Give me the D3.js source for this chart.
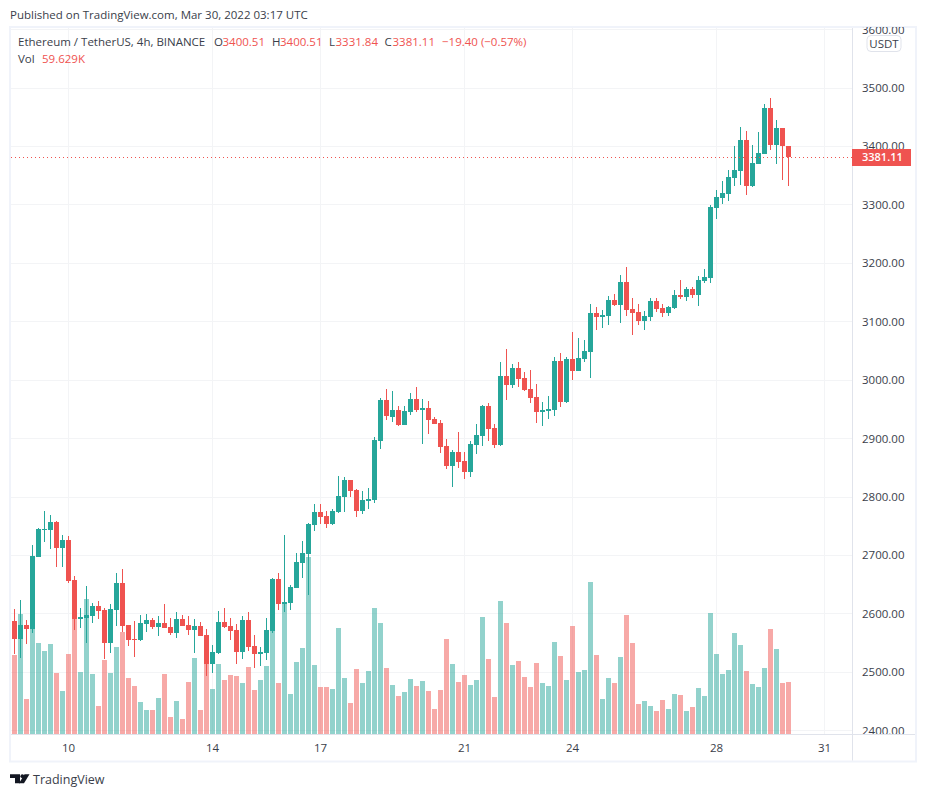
<!DOCTYPE html>
<html>
<head>
<meta charset="utf-8">
<script src="https://cdn.jsdelivr.net/npm/d3@7"></script>
<style>
  body { margin: 0; background: #fff; }
  text { font-family: "Open Sans", sans-serif; font-size: 11.5px; fill: #3a3e4a; }
</style>
</head>
<body>
<script>
const opens = [
  2588, 2557, 2581, 2574, 2697, 2743.5, 2743.5, 2757, 2713, 2726,
  2658, 2591, 2593, 2596, 2613.5, 2607, 2550, 2607, 2653, 2581,
  2557, 2555, 2582.6, 2589.5, 2577.5, 2584.4, 2577.5, 2567, 2591, 2581,
  2572, 2579, 2564, 2514, 2533, 2586, 2579, 2572, 2535, 2589.5,
  2545, 2531, 2533, 2570.7, 2659.7, 2616.9, 2618.6, 2644.3, 2687, 2702.5,
  2752, 2774, 2767.5, 2754, 2774, 2800, 2829, 2812, 2776, 2793,
  2795, 2896, 2966, 2937, 2949, 2923, 2945.5, 2968, 2949, 2952,
  2933.5, 2926.7, 2887, 2853, 2877, 2862, 2843, 2889, 2904, 2956,
  2918, 2889, 3007, 2991.7, 3020.8, 3003.7, 2985, 2971, 2945.5, 2947,
  2949, 3032.8, 2962.7, 3036, 3015.7, 3036, 3048, 3115, 3108, 3110,
  3137, 3128.7, 3168, 3121.8, 3116.7, 3101, 3108, 3135.5, 3123.5, 3115,
  3123.5, 3145.8, 3142.4, 3156, 3145.8, 3169.7, 3174.8, 3294.6, 3311.8, 3318.6,
  3346, 3358, 3411, 3332.3, 3370, 3387, 3465.8, 3402.5, 3431.6, 3400.51
];
const highs = [
  2608, 2624, 2589.5, 2718, 2747, 2776, 2769, 2759, 2735, 2733,
  2665, 2610, 2648, 2619, 2622, 2610, 2617, 2670, 2677, 2581,
  2588, 2598, 2600, 2593, 2596, 2617, 2593, 2603, 2598, 2596,
  2591, 2586, 2574, 2547, 2605, 2610, 2593, 2582.6, 2596, 2603,
  2564, 2543, 2593, 2661.4, 2670, 2735, 2649.5, 2704, 2724.8, 2755.5,
  2788, 2788, 2776, 2779.5, 2836, 2834, 2829, 2813.7, 2810, 2815,
  2903, 2969.5, 2985, 2981.5, 2956, 2956, 2978, 2988, 2968, 2964,
  2937, 2932, 2899, 2880.5, 2911, 2877, 2896, 2925, 2957.5, 2961,
  2925, 3031, 3053.3, 3027.6, 3031, 3014, 3017, 2993.5, 2962.7, 2973,
  3039.7, 3046.5, 3039.7, 3082.5, 3072, 3068.8, 3130, 3125, 3120, 3144,
  3147.5, 3180, 3193.7, 3140.6, 3130, 3118, 3140.6, 3140.6, 3130, 3127,
  3154, 3171.5, 3159.5, 3159.5, 3178, 3190, 3299.8, 3325.4, 3340.9, 3359.7,
  3400.8, 3433.3, 3426.4, 3402.5, 3424.7, 3472.6, 3482.9, 3445.3, 3431.6, 3400.51
];
const lows = [
  2531, 2524.5, 2548, 2567, 2697, 2723, 2711, 2680, 2680, 2653,
  2572, 2576, 2550, 2584, 2591, 2523, 2533, 2579, 2569, 2545,
  2526, 2553.5, 2569, 2574, 2562, 2576, 2564, 2559, 2579, 2564,
  2533, 2562, 2494, 2499, 2531, 2576, 2555, 2514, 2523, 2536,
  2507, 2511, 2521, 2567.3, 2606.7, 2603.3, 2606.7, 2644.3, 2661.4, 2632.4,
  2742, 2754, 2747, 2752, 2773, 2774, 2800, 2766, 2771, 2779.5,
  2790, 2882, 2932, 2928, 2921.6, 2923, 2940, 2945.5, 2891, 2908,
  2925, 2875, 2848, 2817, 2850, 2831, 2834, 2874, 2887, 2896,
  2884, 2887, 2966, 2986.5, 2988.3, 2981.5, 2961, 2927, 2921.6, 2933.6,
  2938.7, 2954, 2961, 3000, 3015.7, 3031, 3003.7, 3086, 3089, 3094,
  3127, 3098, 3110, 3077, 3094, 3086, 3101, 3116.7, 3108, 3110,
  3121.8, 3139, 3135.5, 3140.6, 3127, 3166, 3166.3, 3275.8, 3301.5, 3306.6,
  3332.3, 3334, 3316.9, 3330.6, 3370, 3387, 3393.9, 3370, 3342.6, 3331.84
];
const closes = [
  2557, 2581, 2574, 2699, 2745, 2745, 2757, 2713, 2726, 2656,
  2591, 2595, 2598, 2613.5, 2605, 2550, 2608, 2653, 2579, 2555,
  2555, 2584.4, 2589.5, 2577.5, 2584.4, 2576, 2567, 2591, 2579, 2572,
  2579, 2562, 2514, 2535, 2586, 2577.5, 2571, 2535, 2589.5, 2543,
  2531, 2535, 2572, 2659.7, 2616.9, 2620.4, 2646, 2688.8, 2704.2, 2754,
  2774, 2766, 2754, 2776, 2802, 2829, 2810, 2776, 2795, 2797,
  2897.6, 2966, 2939, 2949, 2923, 2947, 2968, 2949, 2952, 2932,
  2925, 2885.6, 2853, 2877, 2860, 2843, 2891, 2906, 2956, 2916,
  2889, 3007, 2991.7, 3020.8, 3001.9, 2983, 2969.5, 2945.5, 2949, 2950.7,
  3032.8, 2962.7, 3036, 3015.7, 3038, 3050, 3115, 3108, 3111.6, 3137,
  3128.7, 3168, 3120, 3115, 3101, 3110, 3135.5, 3121.8, 3115, 3125,
  3145.8, 3142.4, 3156, 3145.8, 3171.5, 3176.6, 3296.4, 3313.5, 3320.3, 3347.7,
  3359.7, 3411, 3332.3, 3371.7, 3388.8, 3465.8, 3402.5, 3431.6, 3400.8, 3381.11
];
// volume in thousands
const volumes = [
  90.4, 137.2, 40.3, 120.1, 104.1, 95, 103, 69.9, 49.4, 91.6,
  132.2, 71.1, 154.3, 68.8, 32.3, 84.7, 69.9, 99.6, 116.7, 64.2,
  55.1, 36.9, 27.7, 27.7, 41.4, 68.8, 19.8, 38, 17.5, 59.7,
  87, 27.7, 84.7, 51.7, 80.2, 61.9, 67.6, 66.5, 58.5, 76.8,
  50.5, 61.9, 77.9, 117.8, 58.5, 150.9, 46, 82.5, 98.4, 202.2,
  79, 54, 54, 51.7, 121.2, 64.2, 35.7, 74.5, 58.5, 72.2,
  144, 126.9, 75.6, 56.2, 43.7, 48.3, 63.1, 55.1, 60.8, 49.4,
  28.9, 50.5, 108.7, 80.2, 59.7, 67.6, 56.2, 61.9, 133.8, 85.9,
  42.6, 152, 126.9, 79, 83.6, 65.4, 54, 81.3, 58.5, 55.1,
  105.3, 89.3, 61.9, 123.5, 71.1, 73.3, 173.7, 90.4, 40.3, 64.2,
  58.5, 88.2, 136, 104.1, 34.6, 38, 32.3, 26.6, 39.1, 28.9,
  46, 44.8, 26.6, 31.2, 52.8, 43.7, 138.3, 91.6, 68.8, 73.3,
  115.5, 101.8, 72.2, 57.4, 54, 75.6, 120.1, 97.3, 58.5, 59.629
];
const priceTicks = [2400, 2500, 2600, 2700, 2800, 2900, 3000, 3100, 3200, 3300, 3400, 3500, 3600];
const dateTicks = [9, 33, 51, 75, 93, 117, 135];
const dateLabels = ['10', '14', '17', '21', '24', '28', '31'];
const lastPrice = 3381.11;

const green = '#26a69a';
const red = '#ef5350';
const frame = '#f0f3fa';
const divider = '#e0e3eb';
const grid = '#f3f4f6';

const width = 926;
const height = 797;
const pane = { left: 11, top: 28, right: 852, bottom: 734 };
const outerRight = 916;
const outerBottom = 761.5;

const svg = d3.select('body').append('svg')
  .attr('width', width)
  .attr('height', height)
  .style('display', 'block');

const x = d3.scaleLinear().domain([0, 135]).range([14.5, 824.5]);
const y = d3.scaleLinear().domain([2400, 3600]).range([730.73, 29.57]);
const yVol = d3.scaleLinear().domain([0, 200]).range([734.3, 558.9]);
const crisp = (v) => Math.round(v) + 0.5;

const defs = svg.append('defs');
defs.append('clipPath').attr('id', 'pane-clip').append('rect')
  .attr('x', pane.left).attr('y', pane.top)
  .attr('width', pane.right - pane.left).attr('height', pane.bottom - pane.top);
defs.append('clipPath').attr('id', 'axis-clip').append('rect')
  .attr('x', pane.right + 1).attr('y', pane.top - 1)
  .attr('width', outerRight - pane.right - 2).attr('height', pane.bottom - pane.top + 1);

// Grid
const gridG = svg.append('g').attr('clip-path', 'url(#pane-clip)');
gridG.selectAll('line.h').data(priceTicks).enter().append('line')
  .attr('x1', pane.left).attr('x2', pane.right)
  .attr('y1', d => crisp(y(d) - 0.5)).attr('y2', d => crisp(y(d) - 0.5))
  .attr('stroke', grid);
gridG.selectAll('line.v').data(dateTicks).enter().append('line')
  .attr('x1', d => x(d)).attr('x2', d => x(d))
  .attr('y1', pane.top).attr('y2', pane.bottom)
  .attr('stroke', grid);

// Volume
const idx = d3.range(closes.length);
const isUp = (i) => closes[i] >= opens[i];
svg.append('g').attr('clip-path', 'url(#pane-clip)')
  .selectAll('rect').data(idx).enter().append('rect')
  .attr('x', i => x(i) - 2.5)
  .attr('width', 5)
  .attr('y', i => Math.round(yVol(volumes[i])))
  .attr('height', i => 734 - Math.round(yVol(volumes[i])))
  .attr('fill', i => isUp(i) ? green : red)
  .attr('fill-opacity', 0.5)
  .attr('shape-rendering', 'crispEdges');

// Candles
const candles = svg.append('g').attr('clip-path', 'url(#pane-clip)');
candles.selectAll('line').data(idx).enter().append('line')
  .attr('x1', i => x(i)).attr('x2', i => x(i))
  .attr('y1', i => Math.round(y(highs[i])))
  .attr('y2', i => Math.round(y(lows[i])))
  .attr('stroke', i => isUp(i) ? green : red)
  .attr('shape-rendering', 'crispEdges');
candles.selectAll('rect').data(idx).enter().append('rect')
  .attr('x', i => x(i) - 2.5)
  .attr('width', 5)
  .attr('y', i => Math.round(y(Math.max(opens[i], closes[i]))))
  .attr('height', i => Math.max(1, Math.round(y(Math.min(opens[i], closes[i]))) - Math.round(y(Math.max(opens[i], closes[i])))))
  .attr('fill', i => isUp(i) ? green : red)
  .attr('shape-rendering', 'crispEdges');

// Last price line
svg.append('line')
  .attr('x1', pane.left).attr('x2', pane.right)
  .attr('y1', crisp(y(lastPrice) - 0.5)).attr('y2', crisp(y(lastPrice) - 0.5))
  .attr('stroke', red)
  .attr('stroke-dasharray', '1,3')
  .attr('shape-rendering', 'crispEdges');

// Frame
svg.append('rect')
  .attr('x', 10).attr('y', 27)
  .attr('width', outerRight - 10).attr('height', outerBottom - 27)
  .attr('fill', 'none').attr('stroke', frame).attr('stroke-width', 2);
svg.append('line')
  .attr('x1', 852.5).attr('x2', 852.5).attr('y1', pane.top).attr('y2', outerBottom - 1)
  .attr('stroke', divider);
svg.append('line')
  .attr('x1', pane.left).attr('x2', outerRight - 1).attr('y1', 734.5).attr('y2', 734.5)
  .attr('stroke', divider);

// Price axis
svg.append('g').attr('clip-path', 'url(#axis-clip)')
  .selectAll('text').data(priceTicks).enter().append('text')
  .attr('x', 862)
  .attr('y', d => y(d))
  .attr('dy', '0.35em')
  .text(d => d.toFixed(2));

// Time axis
svg.append('g').selectAll('text').data(dateTicks).enter().append('text')
  .attr('x', d => x(d))
  .attr('y', 748)
  .attr('dy', '0.35em')
  .attr('text-anchor', 'middle')
  .text((d, i) => dateLabels[i]);

// Currency badge
svg.append('rect')
  .attr('x', 867).attr('y', 35.5).attr('width', 34).attr('height', 16).attr('rx', 4)
  .attr('fill', '#fff').attr('stroke', divider);
svg.append('text')
  .attr('x', 884).attr('y', 43.5).attr('dy', '0.35em')
  .attr('text-anchor', 'middle')
  .text('USDT');

// Last price label
svg.append('rect')
  .attr('x', 852).attr('y', 149).attr('width', 59).attr('height', 17)
  .attr('fill', red);
svg.append('text')
  .attr('x', 862).attr('y', 157.5).attr('dy', '0.35em')
  .style('fill', '#fff')
  .style('font-weight', 600)
  .style('font-size', '11px')
  .text(lastPrice.toFixed(2));

// Title and legend
svg.append('text').attr('x', 10).attr('y', 15).attr('dy', '0.35em')
  .text('Published on TradingView.com, Mar 30, 2022 03:17 UTC');
svg.append('text').attr('x', 18).attr('y', 42).attr('dy', '0.35em')
  .text('Ethereum / TetherUS, 4h, BINANCE');
svg.append('text').attr('x', 18).attr('y', 59).attr('dy', '0.35em').text('Vol');
svg.append('text').attr('x', 42).attr('y', 59).attr('dy', '0.35em')
  .style('fill', red).text('59.629K');

const legendItems = [
  { x: 214, text: 'O', color: null },
  { x: 222.5, text: '3400.51', color: red },
  { x: 272, text: 'H', color: null },
  { x: 280, text: '3400.51', color: red },
  { x: 329, text: 'L', color: null },
  { x: 335.5, text: '3331.84', color: red },
  { x: 384.5, text: 'C', color: null },
  { x: 392.5, text: '3381.11', color: red },
  { x: 442, text: '\u221219.40 (\u22120.57%)', color: red }
];
svg.selectAll('text.legend').data(legendItems).enter().append('text')
  .attr('class', 'legend')
  .attr('x', d => d.x).attr('y', 42).attr('dy', '0.35em')
  .style('fill', d => d.color || '#3a3e4a')
  .text(d => d.text);

// Logo
const logo = svg.append('g').attr('fill', '#131722');
logo.append('path').attr('d', 'M10 774.3H20V783.3H15V778H10Z');
logo.append('circle').attr('cx', 22.3).attr('cy', 776.2).attr('r', 1.9);
logo.append('path').attr('d', 'M24.5 774.3H29.5L24 783.3H19Z');
svg.append('text').attr('x', 33).attr('y', 779.5).attr('dy', '0.35em')
  .style('font-size', '12.5px')
  .text('TradingView');
</script>
</body>
</html>
